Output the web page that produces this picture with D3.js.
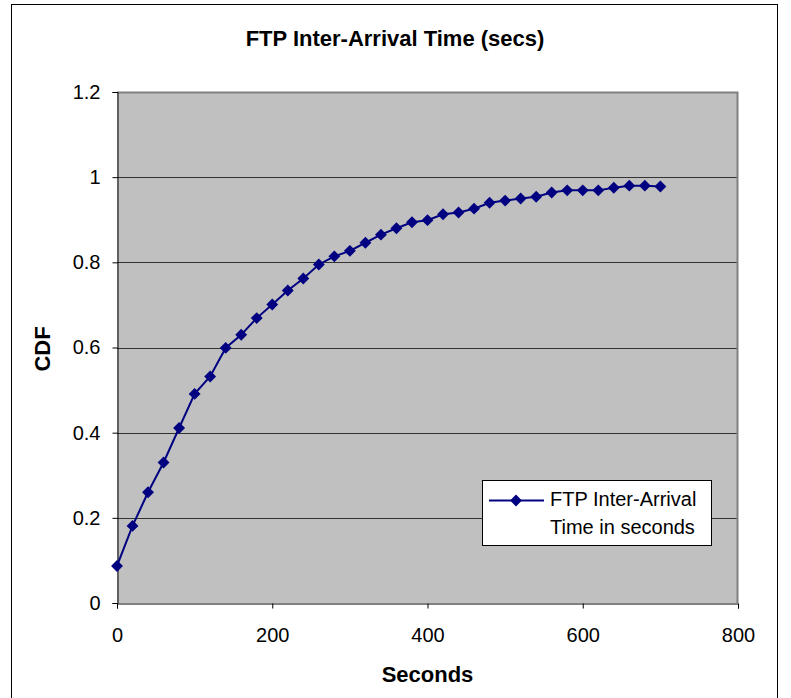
<!DOCTYPE html>
<html>
<head>
<meta charset="utf-8">
<script src="https://cdn.jsdelivr.net/npm/d3@7"></script>
<style>
  body { margin: 0; background: #fff; }
  svg text { font-family: "Liberation Sans", Arial, sans-serif; }
</style>
</head>
<body>
<div id="chart"></div>
<script>
// data
const seconds = [0, 20, 40, 60, 80, 100, 120, 140, 160, 180, 200, 220, 240, 260, 280, 300,
    320, 340, 360, 380, 400, 420, 440, 460, 480, 500, 520, 540, 560, 580, 600, 620, 640, 660, 680, 700];
const cdf = [0.087, 0.181, 0.260, 0.330, 0.411, 0.491, 0.532, 0.599, 0.630, 0.669, 0.701, 0.734,
    0.762, 0.795, 0.814, 0.827, 0.846, 0.865, 0.880, 0.894, 0.899, 0.913, 0.917, 0.926, 0.940,
    0.945, 0.950, 0.954, 0.964, 0.969, 0.969, 0.969, 0.975, 0.980, 0.980, 0.978];
const xTicks = [0, 200, 400, 600, 800];
const yTicks = [0, 0.2, 0.4, 0.6, 0.8, 1, 1.2];
const seriesName = ["FTP Inter-Arrival", "Time in seconds"];

const W = 791, H = 698;
const plot = { left: 117, top: 92, right: 738, bottom: 603 };

const svg = d3.select("#chart").append("svg")
    .attr("width", W)
    .attr("height", H);

// outer chart frame
svg.append("rect")
    .attr("x", 11.5).attr("y", 4.5)
    .attr("width", 766).attr("height", 700)
    .attr("fill", "#fff")
    .attr("stroke", "#000")
    .attr("stroke-width", 1);

const x = d3.scaleLinear().domain([0, 800]).range([plot.left, plot.right]);
const y = d3.scaleLinear().domain([0, 1.2]).range([plot.bottom, plot.top]);

// plot area background
svg.append("rect")
    .attr("x", plot.left).attr("y", plot.top)
    .attr("width", plot.right - plot.left)
    .attr("height", plot.bottom - plot.top)
    .attr("fill", "#c0c0c0");

// horizontal gridlines
svg.append("g")
    .selectAll("line")
    .data(yTicks.slice(1, -1))
    .enter().append("line")
    .attr("x1", plot.left).attr("x2", plot.right)
    .attr("y1", d => Math.round(y(d)) + 0.5)
    .attr("y2", d => Math.round(y(d)) + 0.5)
    .attr("stroke", "#333")
    .attr("stroke-width", 1);

// grey border on top and right
svg.append("path")
    .attr("d", `M${plot.left},${plot.top + 0.5}H${plot.right - 0.5}V${plot.bottom}`)
    .attr("fill", "none")
    .attr("stroke", "#808080")
    .attr("stroke-width", 2);

// Y axis
const yAxis = svg.append("g")
    .attr("transform", `translate(${plot.left + 0.5},0)`)
    .call(d3.axisLeft(y).tickValues(yTicks).tickSize(5).tickPadding(12)
        .tickFormat(d => d === 0 ? "0" : d3.format("")(+d.toFixed(1))));
yAxis.select(".domain").attr("stroke", "#000");
yAxis.selectAll(".tick line").attr("stroke", "#000");
yAxis.selectAll("text")
    .style("font-size", "20px")
    .attr("fill", "#000");

// X axis
const xAxis = svg.append("g")
    .attr("transform", `translate(0,${plot.bottom + 0.5})`)
    .call(d3.axisBottom(x).tickValues(xTicks).tickSize(5).tickPadding(19));
xAxis.select(".domain").attr("stroke", "#000");
xAxis.selectAll(".tick line").attr("stroke", "#000");
xAxis.selectAll("text")
    .style("font-size", "20px")
    .attr("fill", "#000");

// series line
const line = d3.line()
    .x((d, i) => x(seconds[i]))
    .y(d => y(d));

svg.append("path")
    .datum(cdf)
    .attr("d", line)
    .attr("fill", "none")
    .attr("stroke", "#000080")
    .attr("stroke-width", 2);

// diamond markers
const diamond = d3.symbol().type(d3.symbolDiamond2).size(90);
svg.append("g")
    .selectAll("path")
    .data(cdf)
    .enter().append("path")
    .attr("d", diamond)
    .attr("transform", (d, i) => `translate(${x(seconds[i])},${y(d)})`)
    .attr("fill", "#000080");

// title
svg.append("text")
    .attr("x", 395)
    .attr("y", 46)
    .attr("text-anchor", "middle")
    .style("font-size", "22px")
    .style("font-weight", "bold")
    .text("FTP Inter-Arrival Time (secs)");

// axis labels
svg.append("text")
    .attr("x", (plot.left + plot.right) / 2)
    .attr("y", 682)
    .attr("text-anchor", "middle")
    .style("font-size", "22px")
    .style("font-weight", "bold")
    .text("Seconds");

svg.append("text")
    .attr("transform", `translate(50,349) rotate(-90)`)
    .attr("text-anchor", "middle")
    .style("font-size", "22px")
    .style("font-weight", "bold")
    .text("CDF");

// legend
const legend = svg.append("g").attr("transform", "translate(482,480)");
legend.append("rect")
    .attr("x", 0.5).attr("y", 0.5)
    .attr("width", 229).attr("height", 65)
    .attr("fill", "#fff")
    .attr("stroke", "#000");
legend.append("line")
    .attr("x1", 7).attr("x2", 62)
    .attr("y1", 20.5).attr("y2", 20.5)
    .attr("stroke", "#000080")
    .attr("stroke-width", 2);
legend.append("path")
    .attr("d", diamond)
    .attr("transform", "translate(34,20.5)")
    .attr("fill", "#000080");
legend.selectAll("text.lbl")
    .data(seriesName)
    .enter().append("text")
    .attr("class", "lbl")
    .attr("x", 68)
    .attr("y", (d, i) => 26 + i * 28)
    .style("font-size", "20px")
    .text(d => d);
</script>
</body>
</html>
